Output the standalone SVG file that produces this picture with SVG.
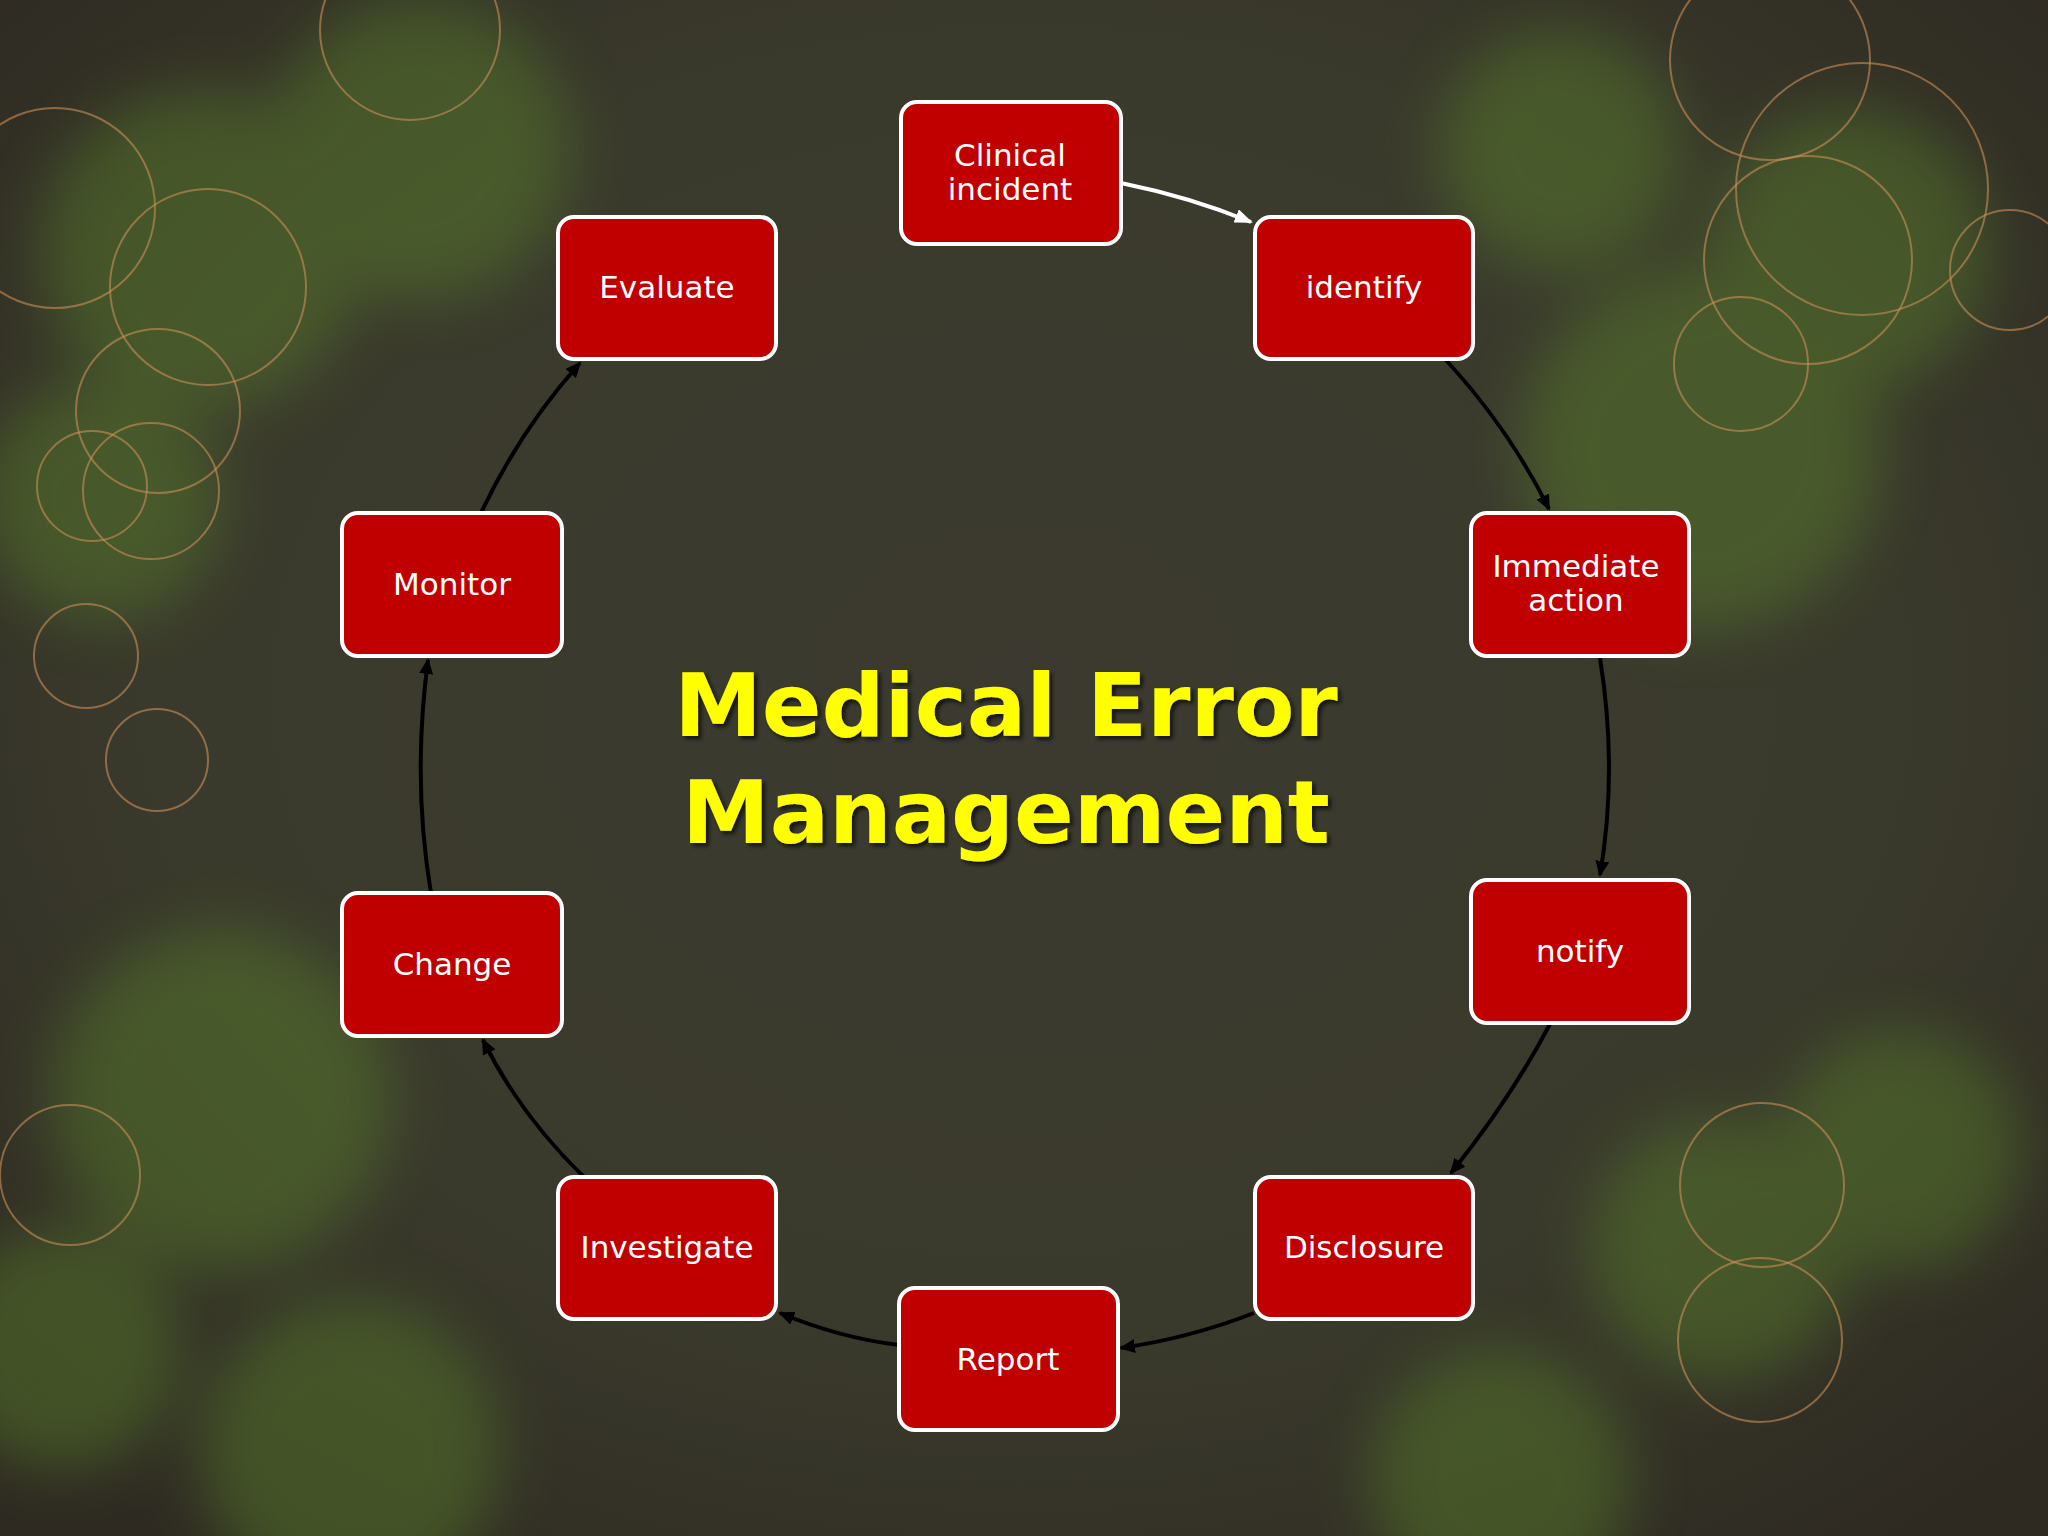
<svg xmlns="http://www.w3.org/2000/svg" width="2048" height="1536" viewBox="0 0 2048 1536">
<defs>
<radialGradient id="bg" cx="50%" cy="45%" r="70%"><stop offset="0" stop-color="#3c3a30"/><stop offset="0.6" stop-color="#3a3a2c"/><stop offset="1" stop-color="#2e2a22"/></radialGradient>
<filter id="blur" x="-50%" y="-50%" width="200%" height="200%"><feGaussianBlur stdDeviation="30"/></filter>
<filter id="sh"><feDropShadow dx="3" dy="3" stdDeviation="2" flood-color="#000" flood-opacity="0.7"/></filter>
<marker id="ab" markerWidth="16" markerHeight="14" refX="14" refY="7" orient="auto" markerUnits="userSpaceOnUse"><path d="M0,0 L16,7 L0,14 z" fill="#000"/></marker>
<marker id="aw" markerWidth="18" markerHeight="14" refX="16" refY="7" orient="auto" markerUnits="userSpaceOnUse"><path d="M0,0 L18,7 L0,14 z" fill="#fff"/></marker>
<style>
.n rect{fill:#c00000;stroke:#fff;stroke-width:4}
.n text{font-family:"DejaVu Sans",Verdana,sans-serif;font-size:31px;fill:#fff;text-anchor:middle}
.c path{fill:none;stroke:#000;stroke-width:4;marker-end:url(#ab)}
.ring{fill:none;stroke:#c8905a;stroke-width:2;opacity:0.6}
</style>
</defs>
<rect width="2048" height="1536" fill="url(#bg)"/>
<g filter="url(#blur)" opacity="0.4" fill="#5f8a2a">
<circle cx="200" cy="250" r="160"/><circle cx="420" cy="150" r="150"/><circle cx="100" cy="500" r="120"/>
<circle cx="220" cy="1100" r="170"/><circle cx="1560" cy="150" r="120"/><circle cx="1700" cy="450" r="180"/>
<circle cx="1850" cy="250" r="140"/><circle cx="1720" cy="1250" r="130"/><circle cx="1900" cy="1150" r="120"/>
<circle cx="350" cy="1450" r="150"/><circle cx="1500" cy="1480" r="130"/><circle cx="60" cy="1350" r="120"/>
</g>
<g>
<circle class="ring" cx="55" cy="208" r="100"/><circle class="ring" cx="208" cy="287" r="98"/><circle class="ring" cx="158" cy="411" r="82"/>
<circle class="ring" cx="151" cy="491" r="68"/><circle class="ring" cx="92" cy="486" r="55"/><circle class="ring" cx="86" cy="656" r="52"/>
<circle class="ring" cx="157" cy="760" r="51"/><circle class="ring" cx="70" cy="1175" r="70"/><circle class="ring" cx="1862" cy="189" r="126"/>
<circle class="ring" cx="1808" cy="260" r="104"/><circle class="ring" cx="1741" cy="364" r="67"/><circle class="ring" cx="1762" cy="1185" r="82"/>
<circle class="ring" cx="1760" cy="1340" r="82"/><circle class="ring" cx="1770" cy="60" r="100"/><circle class="ring" cx="2010" cy="270" r="60"/>
<circle class="ring" cx="410" cy="30" r="90"/>
</g>
<g class="c">
<path d="M1121,183 Q1190,197 1251,222" style="stroke:#fff;marker-end:url(#aw)"/>
<path d="M1446,360 Q1510,430 1549,509"/>
<path d="M1600,658 Q1618,770 1600,875"/>
<path d="M1550,1024 Q1510,1100 1451,1173"/>
<path d="M1254,1313 Q1190,1338 1121,1348"/>
<path d="M899,1345 Q840,1338 780,1313"/>
<path d="M584,1177 Q520,1115 483,1040"/>
<path d="M431,893 Q412,780 428,660"/>
<path d="M481,513 Q520,430 580,363"/>
</g>
<g id="clinical" class="n"><rect x="901" y="102" width="220" height="142" rx="16"/><text x="1010" y="166">Clinical</text><text x="1010" y="200">incident</text></g>
<g id="identify" class="n"><rect x="1255" y="217" width="218" height="142" rx="16"/><text x="1364" y="298">identify</text></g>
<g id="immediate" class="n"><rect x="1471" y="513" width="218" height="143" rx="16"/><text x="1576" y="577">Immediate</text><text x="1576" y="611">action</text></g>
<g id="notify" class="n"><rect x="1471" y="880" width="218" height="143" rx="16"/><text x="1580" y="962">notify</text></g>
<g id="disclosure" class="n"><rect x="1255" y="1177" width="218" height="142" rx="16"/><text x="1364" y="1258">Disclosure</text></g>
<g id="report" class="n"><rect x="899" y="1288" width="219" height="142" rx="16"/><text x="1008" y="1370">Report</text></g>
<g id="investigate" class="n"><rect x="558" y="1177" width="218" height="142" rx="16"/><text x="667" y="1258">Investigate</text></g>
<g id="change" class="n"><rect x="342" y="893" width="220" height="143" rx="16"/><text x="452" y="975">Change</text></g>
<g id="monitor" class="n"><rect x="342" y="513" width="220" height="143" rx="16"/><text x="452" y="595">Monitor</text></g>
<g id="evaluate" class="n"><rect x="558" y="217" width="218" height="142" rx="16"/><text x="667" y="298">Evaluate</text></g>
<g id="title" filter="url(#sh)" font-family="'DejaVu Sans',Verdana,sans-serif" font-weight="bold" font-size="88" fill="#ffff00" text-anchor="middle">
<text x="1006" y="736">Medical Error</text><text x="1006" y="843">Management</text></g>
</svg>
